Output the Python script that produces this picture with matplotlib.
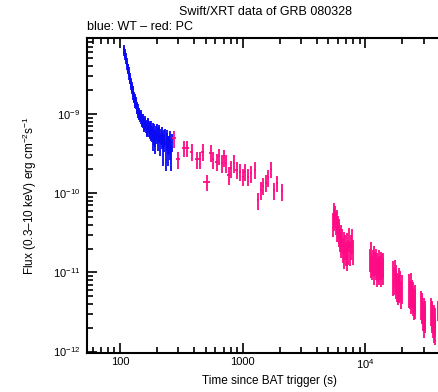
import matplotlib
matplotlib.use("Agg")
import matplotlib.pyplot as plt
from matplotlib.ticker import FixedLocator, NullFormatter
import numpy as np

plt.rcParams['font.family'] = ['Liberation Sans', 'DejaVu Sans']
plt.rcParams['mathtext.fontset'] = 'custom'
plt.rcParams['mathtext.rm'] = 'Liberation Sans'
plt.rcParams['mathtext.it'] = 'Liberation Sans:italic'
plt.rcParams['mathtext.bf'] = 'Liberation Sans:bold'

# ---- WT mode (blue) ----
wt_t = [108, 109, 110, 111, 112, 113, 114, 115, 116, 117, 118, 119, 120, 121, 122, 123,
        124, 125, 126, 127, 128, 129, 130, 131, 132, 133, 134, 135, 136, 137, 138, 139,
        140, 141.5, 143, 144.5, 146, 147.5, 149, 150.5, 152, 153.5, 155, 156.5, 158, 159.5,
        161, 163, 165, 167, 169, 171, 173, 175, 177, 179, 181, 183, 185, 187, 189, 191,
        193, 195, 197, 199, 201, 204, 207, 210, 213, 216, 219, 222, 225, 228, 231, 234,
        237, 240, 243, 246, 249, 252, 255, 258, 261, 264]
wt_f = [66, 62, 58, 55, 52, 48, 45, 41, 38, 37, 35, 31, 29, 28, 27, 25,
        23, 22, 21, 20, 19, 17.5, 16.5, 16, 15.5, 14.5, 14, 14.2, 13.5, 12.4, 11.8, 11.9,
        11.5, 10.6, 10.2, 9.9, 9.4, 9.6, 9.0, 8.5, 8.3, 8.6, 8.0, 7.4, 7.2, 8.0,
        7.6, 7.0, 6.5, 6.6, 7.4, 7.2, 6.4, 6.9, 6.0, 6.8, 5.8, 5.6, 6.3, 4.8, 5.2, 6.1,
        4.4, 5.0, 5.8, 6.2, 5.4, 4.6, 5.6, 5.9, 4.2, 5.2, 4.8, 5.5, 3.6, 5.0, 4.4, 5.3,
        3.2, 4.6, 5.0, 4.1, 3.4, 4.2, 4.8, 3.7, 3.0, 4.4]          # 1e-10
wt_e = [9, 8, 7, 7, 6, 6, 5, 5, 5, 5, 4.5, 4, 4, 4, 3.5, 3.5,
        3, 3, 3, 2.8, 2.6, 2.5, 2.4, 2.4, 2.2, 2.2, 2, 2, 2, 1.9, 1.8, 1.8,
        1.8, 1.7, 1.6, 1.6, 1.5, 1.5, 1.5, 1.4, 1.4, 1.4, 1.4, 1.3, 1.3, 1.4,
        1.4, 1.3, 1.4, 1.3, 1.4, 1.4, 1.3, 1.3, 1.2, 1.4, 1.2, 1.2, 1.3, 1.4, 1.2, 1.3,
        1.3, 1.2, 1.3, 1.3, 1.2, 1.2, 1.3, 1.3, 1.3, 1.2, 1.2, 1.3, 1.4, 1.2, 1.1, 1.2,
        1.3, 1.2, 1.2, 1.1, 1.2, 1.1, 1.2, 1.1, 1.1, 1.1]           # 1e-10

# ---- PC mode (red) early ----
pc_t = [275, 299, 333, 354, 384, 422, 448, 472, 509, 551, 576, 614, 645, 679, 703,
        727, 769, 802, 848, 893, 950, 1000, 1050, 1110, 1170, 1255, 1330, 1400, 1475,
        1540, 1615, 1700, 1800, 1910, 2080]
pc_f = [4.94, 2.69, 3.69, 3.69, 3.35, 2.69, 2.69, 3.35, 1.39, 3.25, 2.69, 2.5, 2.95,
        2.39, 2.85, 2.39, 1.70, 2.07, 2.39, 1.97, 1.87, 1.62, 1.87, 1.62, 1.79, 1.97,
        0.81, 1.10, 1.24, 1.36, 1.59, 2.01, 1.08, 1.34, 1.05]   # 1e-10
pc_xe = [10, 12, 12, 10, 14, 14, 12, 12, 30, 14, 12, 14, 14, 14, 12, 14, 16, 16, 18,
         18, 18, 20, 20, 22, 24, 26, 26, 26, 28, 28, 30, 32, 32, 36, 40]
pc_ye = [1.2, 0.65, 0.85, 0.85, 0.8, 0.65, 0.65, 0.8, 0.32, 0.75, 0.65, 0.6, 0.7,
         0.6, 0.7, 0.6, 0.42, 0.5, 0.6, 0.48, 0.45, 0.4, 0.45, 0.4, 0.43, 0.48,
         0.2, 0.27, 0.3, 0.33, 0.38, 0.48, 0.27, 0.32, 0.26]

# ---- PC mode late orbits ----
late_t = [5450, 5520, 5600, 5680, 5750, 5830, 5900, 5980, 6060, 6140, 6220, 6300, 6390,
          6480, 6570, 6660, 6750, 6850, 6950, 7050, 7150, 7260, 7370, 7480, 7600, 7730, 7860,
          10900, 11050, 11200, 11350, 11500, 11650, 11800, 11950, 12100, 12250, 12400,
          12550, 12700, 12850, 13000, 13150, 13300, 13450, 13600, 13800, 14000,
          16900, 17150, 17400, 17650, 17900, 18150, 18400, 18650, 18900, 19150, 19450, 19800,
          22800, 23100, 23400, 23700, 24000, 24300, 24600, 24900, 25200, 25400,
          28600, 28900, 29200, 29500, 29800, 30100, 30400, 30800,
          34400, 34800, 35200, 35600, 36000, 36400, 36800, 37200, 39300]
late_f = [4.2, 5.6, 4.8, 5.2, 4.4, 3.6, 4.6, 3.9, 3.2, 3.5, 2.7, 3.0, 2.3,
          2.6, 2.0, 2.4, 1.7, 2.2, 1.8, 1.6, 2.3, 1.9, 2.7, 1.8, 2.2, 2.6, 1.9,
          1.5, 1.3, 1.7, 1.2, 1.4, 1.6, 1.1, 1.35, 1.25, 1.5, 1.0,
          1.3, 1.15, 1.4, 1.05, 1.2, 1.35, 1.0, 1.25, 1.1, 1.3,
          0.95, 0.82, 1.05, 0.76, 0.88, 0.70, 0.64, 0.80, 0.68, 0.74, 0.56, 0.66,
          0.65, 0.56, 0.70, 0.50, 0.58, 0.46, 0.54, 0.42, 0.50, 0.44,
          0.42, 0.36, 0.39, 0.30, 0.34, 0.26, 0.31, 0.28,
          0.34, 0.29, 0.31, 0.25, 0.28, 0.22, 0.26, 0.20, 0.34]   # 1e-11
late_e = [1.4, 1.8, 1.5, 1.6, 1.4, 1.2, 1.5, 1.3, 1.1, 1.2, 0.9, 1.0, 0.8,
          0.9, 0.7, 0.8, 0.6, 0.75, 0.6, 0.55, 0.8, 0.65, 0.9, 0.6, 0.75, 0.9, 0.65,
          0.5, 0.45, 0.7, 0.4, 0.5, 0.55, 0.4, 0.45, 0.45, 0.5, 0.35,
          0.45, 0.4, 0.5, 0.35, 0.4, 0.45, 0.35, 0.45, 0.4, 0.45,
          0.45, 0.3, 0.4, 0.3, 0.35, 0.28, 0.25, 0.32, 0.27, 0.3, 0.22, 0.26,
          0.3, 0.22, 0.28, 0.2, 0.23, 0.18, 0.22, 0.17, 0.2, 0.18,
          0.17, 0.14, 0.16, 0.12, 0.14, 0.11, 0.13, 0.11,
          0.13, 0.12, 0.12, 0.1, 0.11, 0.09, 0.1, 0.08, 0.1]     # 1e-11

BLUE = '#0a0af5'
PINK = '#ff0a85'

W, H = 439, 392
fig = plt.figure(figsize=(W / 100, H / 100), dpi=100)
ax = fig.add_axes([87 / W, 1 - 353 / H, 1 - 87 / W, (353 - 38) / H])

ax.errorbar(np.array(wt_t), np.array(wt_f) * 1e-10, xerr=0.6, yerr=np.array(wt_e) * 1e-10,
            fmt='none', ecolor=BLUE, elinewidth=1.3, capsize=0)
ax.errorbar(np.array(pc_t), np.array(pc_f) * 1e-10, xerr=np.array(pc_xe),
            yerr=np.array(pc_ye) * 1e-10,
            fmt='none', ecolor=PINK, elinewidth=1.3, capsize=0)
lt = np.array(late_t)
ax.errorbar(lt, np.array(late_f) * 1e-11, xerr=lt * 0.006,
            yerr=np.array(late_e) * 1e-11,
            fmt='none', ecolor=PINK, elinewidth=1.3, capsize=0)

ax.set_xscale('log')
ax.set_yscale('log')
ax.set_xlim(54, 39800)
ax.set_ylim(9.6e-13, 9.07e-9)

ax.xaxis.set_major_locator(FixedLocator([100, 1000, 10000]))
ax.set_xticklabels(['100', '1000', r'$10^{4}$'])
ax.xaxis.set_minor_locator(FixedLocator(
    [60, 70, 80, 90] + [k * 100 for k in range(2, 10)] + [k * 1000 for k in range(2, 10)]
    + [20000, 30000]))
ax.xaxis.set_minor_formatter(NullFormatter())

ax.yaxis.set_major_locator(FixedLocator([1e-12, 1e-11, 1e-10, 1e-9]))
ax.set_yticklabels([r'$10^{-12}$', r'$10^{-11}$', r'$10^{-10}$', r'$10^{-9}$'])
ax.yaxis.set_minor_locator(FixedLocator(
    [k * 10.0 ** e for e in (-12, -11, -10, -9) for k in range(2, 10)]))
ax.yaxis.set_minor_formatter(NullFormatter())

ax.tick_params(which='both', direction='in', top=True, right=False, width=1.2,
               labelsize=8, color='black')
ax.tick_params(which='major', length=7)
ax.tick_params(which='minor', length=4)
ax.tick_params(axis='x', pad=3)
ax.tick_params(axis='y', pad=5)
for s in ('left', 'bottom', 'top'):
    ax.spines[s].set_linewidth(1.5)
ax.spines['right'].set_visible(False)

fig.text(265.5 / W, 1 - 12 / H, 'Swift/XRT data of GRB 080328', ha='center', va='center',
         fontsize=9)
fig.text(87 / W, 1 - 27 / H, 'blue: WT \u2013 red: PC', ha='left', va='center', fontsize=9)
fig.text(270 / W, 1 - 381 / H, 'Time since BAT trigger (s)', ha='center', va='center',
         fontsize=8.5)
fig.text(30 / W, 1 - 196 / H, 'Flux (0.3\u201310 keV) erg cm$^{-2}$s$^{-1}$',
         ha='center', va='center', rotation=90, fontsize=8.5)

fig.savefig('out.png', dpi=100)
